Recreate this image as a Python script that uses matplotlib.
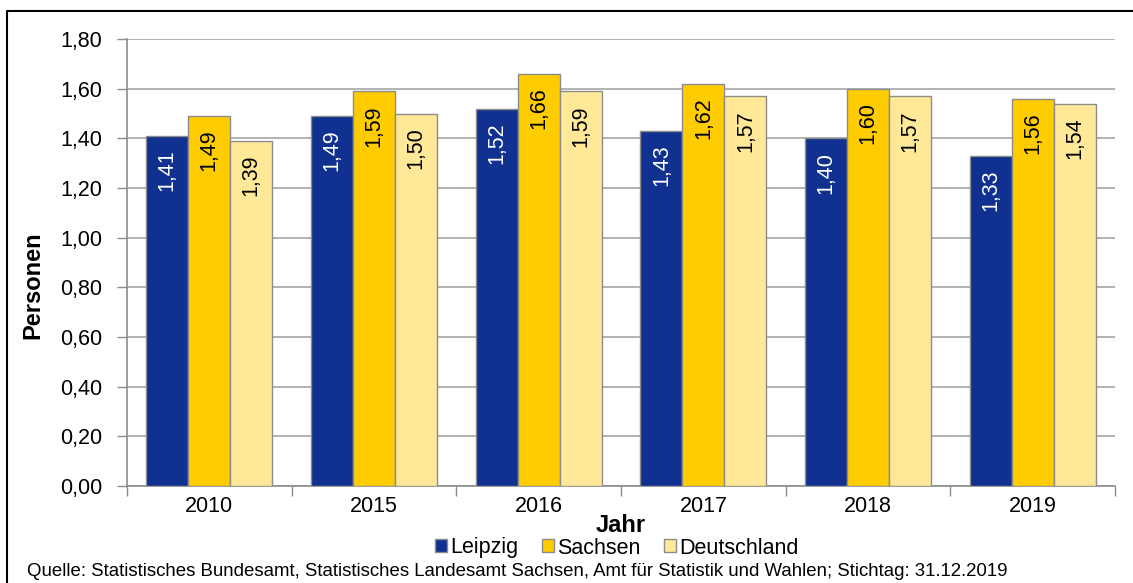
import matplotlib.pyplot as plt
import numpy as np
from matplotlib.lines import Line2D

plt.rcParams['font.family'] = ['Liberation Sans', 'DejaVu Sans']

jahre = ["2010", "2015", "2016", "2017", "2018", "2019"]
leipzig = [1.41, 1.49, 1.52, 1.43, 1.40, 1.33]
sachsen = [1.49, 1.59, 1.66, 1.62, 1.60, 1.56]
deutschland = [1.39, 1.50, 1.59, 1.57, 1.57, 1.54]

reihen = [("Leipzig", leipzig, "#10318f", "white"),
          ("Sachsen", sachsen, "#ffcc00", "black"),
          ("Deutschland", deutschland, "#ffe998", "black")]

fig = plt.figure(figsize=(11.33, 5.83), dpi=100)
ax = fig.add_axes([0.1121, 0.1664, 0.8721, 0.7667])

x = np.arange(len(jahre))
breite = 0.255
for i, (name, werte, farbe, textfarbe) in enumerate(reihen):
    pos = x + (i - 1) * breite
    bars = ax.bar(pos, werte, breite, color=farbe, edgecolor="#8c8c8c",
                  linewidth=1.0, label=name, zorder=3)
    for b, v in zip(bars, werte):
        ax.annotate(f"{v:.2f}".replace(".", ","),
                    (b.get_x() + b.get_width() / 2, v),
                    xytext=(0, -10), textcoords="offset points",
                    rotation=90, ha="center", va="top",
                    fontsize=15.5, color=textfarbe, zorder=4)

ax.set_xlim(-0.5, len(jahre) - 0.5)
ax.set_ylim(0, 1.8)
ax.set_yticks(np.arange(0, 1.81, 0.2))
ax.set_yticklabels([f"{t:.2f}".replace(".", ",") for t in np.arange(0, 1.81, 0.2)])
ax.set_xticks(x)
ax.set_xticklabels(jahre)
ax.set_xticks(np.arange(-0.5, len(jahre)), minor=True)
ax.tick_params(axis="x", which="major", length=0, pad=7, labelsize=15.5)
ax.tick_params(axis="x", which="minor", length=7, color="#8c8c8c", width=1)
ax.tick_params(axis="y", length=7, color="#8c8c8c", width=1, pad=11, labelsize=15.5)

ax.yaxis.grid(True, color="#a6a6a6", linewidth=1.2, zorder=0)
for s in ["top", "right"]:
    ax.spines[s].set_visible(False)
for s in ["left", "bottom"]:
    ax.spines[s].set_color("#8c8c8c")
    ax.spines[s].set_linewidth(1.2)

ax.set_xlabel("Jahr", fontsize=17, fontweight="bold", labelpad=-2)
fig.text(33 / 1133, 1 - 285 / 583, "Personen", rotation=90, fontsize=17,
         fontweight="bold", ha="center", va="center")

fig.legend(loc="center", bbox_to_anchor=(617 / 1133, 1 - 548 / 583), ncol=3,
           frameon=False, fontsize=15.5, handlelength=0.55, handleheight=0.55,
           handletextpad=0.15, columnspacing=1.1, borderaxespad=0)

fig.text(27 / 1133, 1 - 571 / 583,
         "Quelle: Statistisches Bundesamt, Statistisches Landesamt Sachsen, "
         "Amt für Statistik und Wahlen; Stichtag: 31.12.2019",
         fontsize=13.45, va="center", ha="left")

# Rahmen oben und links
fig.add_artist(Line2D([7 / 1133, 7 / 1133, 1], [0, 1 - 11 / 583, 1 - 11 / 583],
                      transform=fig.transFigure, color="black", linewidth=1.5))

fig.savefig("out.png", dpi=100)
